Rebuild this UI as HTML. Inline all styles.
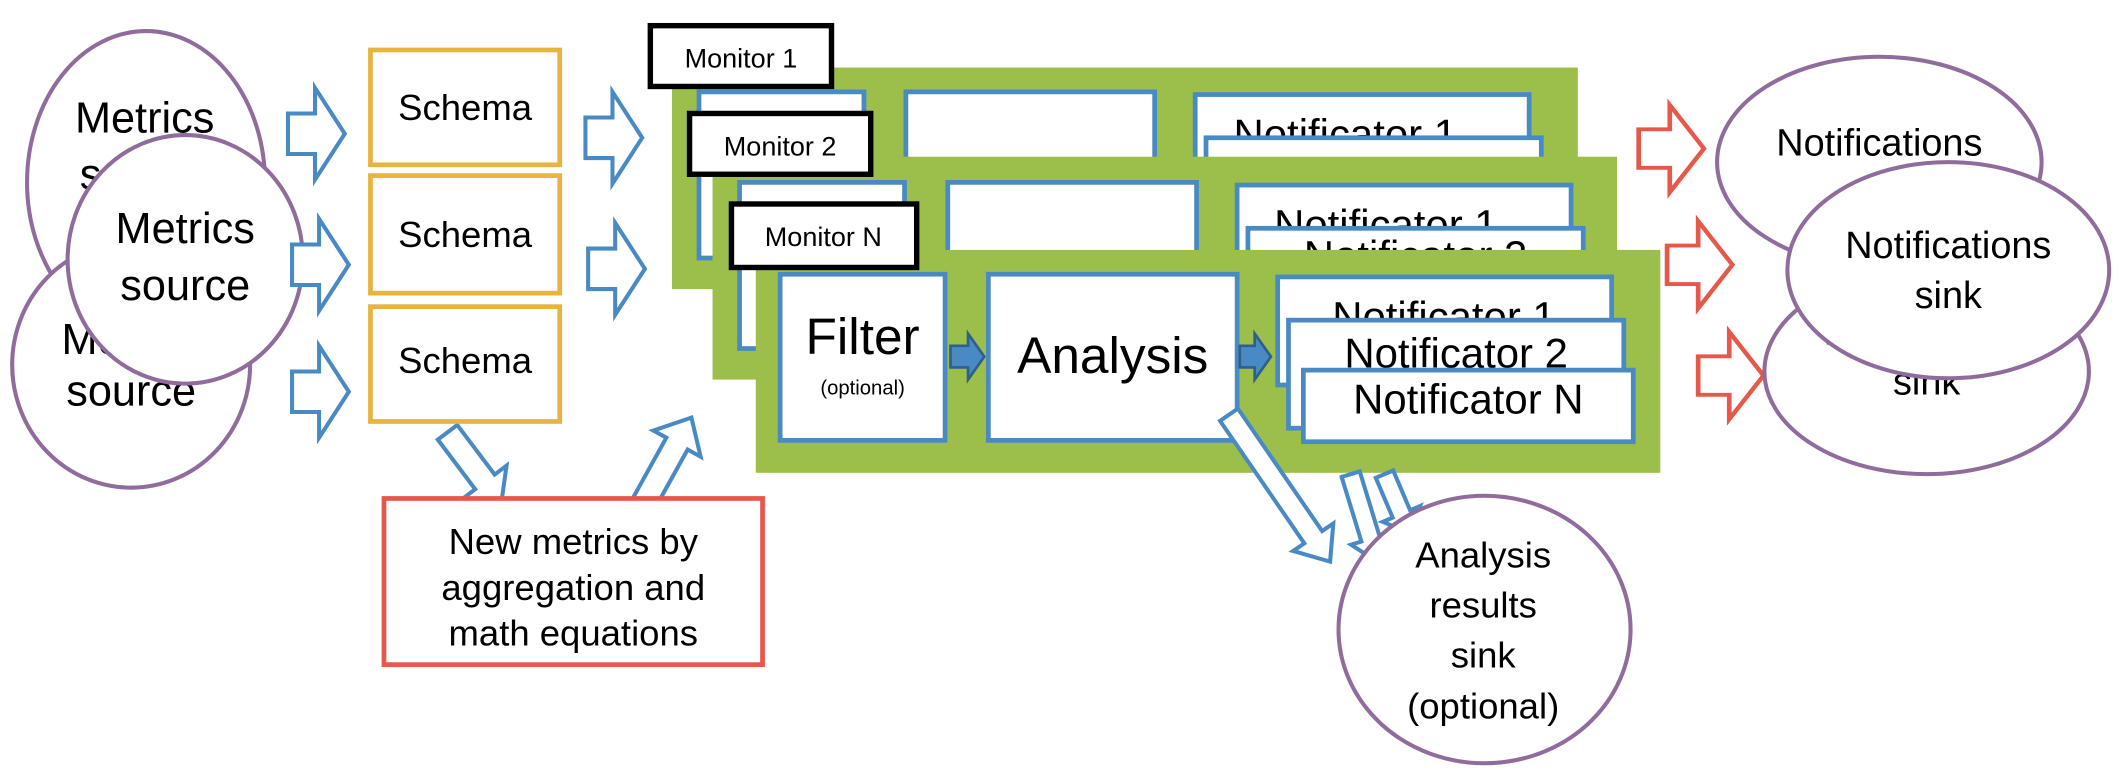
<!DOCTYPE html>
<html><head><meta charset="utf-8"><style>
html,body{margin:0;padding:0;background:#fff;}
svg{display:block;}
text{font-family:"Liberation Sans",Arial,sans-serif;fill:#000;}
</style></head><body>
<svg width="2120" height="770" viewBox="0 0 1568 570" preserveAspectRatio="none" xmlns="http://www.w3.org/2000/svg">
<defs>
<polygon id="ar" points="0,-15 20,-15 20,-34 42,0 20,34 20,15 0,15"/>
</defs>
<!-- source ellipses -->
<g stroke="#8f6c9c" stroke-width="3" fill="#fff">
<ellipse cx="108" cy="135" rx="88" ry="112"/>
<text x="107" y="98" font-size="32" text-anchor="middle" stroke="none">Metrics</text>
<text x="107" y="140" font-size="32" text-anchor="middle" stroke="none">source</text>
<ellipse cx="97" cy="270" rx="88" ry="91"/>
<text x="97" y="262" font-size="32" text-anchor="middle" stroke="none">Metrics</text>
<text x="97" y="300" font-size="32" text-anchor="middle" stroke="none">source</text>
<ellipse cx="137" cy="192" rx="87" ry="92"/>
<text x="137" y="180" font-size="32" text-anchor="middle" stroke="none">Metrics</text>
<text x="137" y="222" font-size="32" text-anchor="middle" stroke="none">source</text>
</g>
<!-- blue arrows -->
<g fill="#fff" stroke="#4a8ac4" stroke-width="3" stroke-linejoin="miter">
<use href="#ar" transform="translate(213,99)"/>
<use href="#ar" transform="translate(216,196)"/>
<use href="#ar" transform="translate(216,290)"/>
<use href="#ar" transform="translate(433,102)"/>
<use href="#ar" transform="translate(435,199)"/>
<polygon points="0,-9 46,-9 46,-20 66,0 46,20 46,9 0,9" transform="translate(331,320) rotate(53)"/>
<polygon points="0,-9 51,-9 51,-20 73,0 51,20 51,9 0,9" transform="translate(476,373) rotate(-61)"/>
</g>
<!-- schema boxes -->
<g fill="#fff" stroke="#e8b440" stroke-width="3.5">
<rect x="274" y="37" width="140" height="85"/>
<rect x="274" y="130" width="140" height="87"/>
<rect x="274" y="227" width="140" height="85"/>
</g>
<g font-size="27" text-anchor="middle">
<text x="344" y="89">Schema</text>
<text x="344" y="183">Schema</text>
<text x="344" y="276">Schema</text>
</g>
<rect x="284" y="369" width="280" height="123" fill="#fff" stroke="#e5584a" stroke-width="3.5"/>
<g font-size="27" text-anchor="middle">
<text x="424" y="410">New metrics by</text>
<text x="424" y="444">aggregation and</text>
<text x="424" y="478">math equations</text>
</g>
<!-- monitor 1 -->
<rect x="497" y="50" width="670" height="164" fill="#9bbf4a"/>
<g fill="#fff" stroke="#4a8ac4" stroke-width="3.5">
<rect x="517" y="68" width="122" height="123"/>
<rect x="670" y="68" width="184" height="123"/>
<rect x="884" y="70" width="247" height="80"/>
</g>
<text x="995" y="110" font-size="31" text-anchor="middle">Notificator 1</text>
<rect x="892" y="102" width="248" height="80" fill="#fff" stroke="#4a8ac4" stroke-width="3.5"/>
<rect x="481" y="19" width="134" height="45" fill="#fff" stroke="#000" stroke-width="4"/>
<text x="548" y="50" font-size="20" text-anchor="middle">Monitor 1</text>
<!-- monitor 2 -->
<rect x="527" y="116" width="669" height="165" fill="#9bbf4a"/>
<g fill="#fff" stroke="#4a8ac4" stroke-width="3.5">
<rect x="547" y="135" width="122" height="123"/>
<rect x="701" y="135" width="184" height="123"/>
<rect x="915" y="137" width="247" height="80"/>
</g>
<text x="1025" y="177" font-size="31" text-anchor="middle">Notificator 1</text>
<rect x="923" y="169" width="248" height="80" fill="#fff" stroke="#4a8ac4" stroke-width="3.5"/>
<text x="1047" y="200" font-size="31" text-anchor="middle">Notificator 2</text>
<rect x="510" y="84" width="134" height="45" fill="#fff" stroke="#000" stroke-width="4"/>
<text x="577" y="115" font-size="20" text-anchor="middle">Monitor 2</text>
<!-- monitor N -->
<rect x="559" y="185" width="669" height="165" fill="#9bbf4a"/>
<g fill="#fff" stroke="#4a8ac4" stroke-width="3.5">
<rect x="577" y="203" width="122" height="123"/>
<rect x="731" y="203" width="184" height="123"/>
<rect x="945" y="205" width="247" height="80"/>
</g>
<text x="1068" y="245" font-size="31" text-anchor="middle">Notificator 1</text>
<rect x="953" y="237" width="248" height="80" fill="#fff" stroke="#4a8ac4" stroke-width="3.5"/>
<text x="1077" y="272" font-size="31" text-anchor="middle">Notificator 2</text>
<rect x="964" y="274" width="244" height="53" fill="#fff" stroke="#4a8ac4" stroke-width="3.5"/>
<text x="1086" y="306" font-size="31" text-anchor="middle">Notificator N</text>
<text x="638" y="262" font-size="38" text-anchor="middle">Filter</text>
<text x="638" y="292" font-size="15" text-anchor="middle">(optional)</text>
<text x="823" y="276" font-size="38" text-anchor="middle">Analysis</text>
<g fill="#4a8ac4" stroke="#2f5f8c" stroke-width="2">
<polygon points="703,256 716,256 716,247 728,264 716,281 716,272 703,272"/>
<polygon points="917,256 928,256 928,247 940,264 928,281 928,272 917,272"/>
</g>
<rect x="541" y="151" width="137" height="47" fill="#fff" stroke="#000" stroke-width="4"/>
<text x="609" y="182" font-size="20" text-anchor="middle">Monitor N</text>
<!-- analysis sink arrows -->
<g fill="#fff" stroke="#4a8ac4" stroke-width="3">
<polygon points="0,-7 32,-7 32,-15 47,0 32,15 32,7 0,7" transform="translate(1024,351) rotate(67)"/>
<polygon points="0,-7 50,-7 50,-15 68,0 50,15 50,7 0,7" transform="translate(999,351) rotate(73)"/>
<polygon points="0,-8 110,-8 110,-18 132,0 110,18 110,8 0,8" transform="translate(909,307) rotate(55.5)"/>
</g>
<!-- analysis results sink -->
<ellipse cx="1098" cy="466" rx="108" ry="99" fill="#fff" stroke="#8f6c9c" stroke-width="3"/>
<g font-size="27" text-anchor="middle">
<text x="1097" y="420">Analysis</text>
<text x="1097" y="457">results</text>
<text x="1097" y="494">sink</text>
<text x="1097" y="532">(optional)</text>
</g>
<!-- red arrows -->
<g fill="#fff" stroke="#e5584a" stroke-width="3">
<use href="#ar" transform="translate(1212,110) scale(1.15,0.95)"/>
<use href="#ar" transform="translate(1233,196) scale(1.15,0.95)"/>
<use href="#ar" transform="translate(1256,278) scale(1.15,0.95)"/>
</g>
<!-- notification sinks -->
<g stroke="#8f6c9c" stroke-width="3" fill="#fff">
<ellipse cx="1390" cy="120" rx="120" ry="78"/>
<text x="1390" y="115" font-size="28" text-anchor="middle" stroke="none">Notifications</text>
<ellipse cx="1425" cy="275" rx="120" ry="76"/>
<text x="1425" y="255" font-size="28" text-anchor="middle" stroke="none">Notifications</text>
<text x="1425" y="292" font-size="28" text-anchor="middle" stroke="none">sink</text>
<ellipse cx="1441" cy="200" rx="119" ry="80"/>
<text x="1441" y="191" font-size="28" text-anchor="middle" stroke="none">Notifications</text>
<text x="1441" y="228" font-size="28" text-anchor="middle" stroke="none">sink</text>
</g>
</svg>
</body></html>
